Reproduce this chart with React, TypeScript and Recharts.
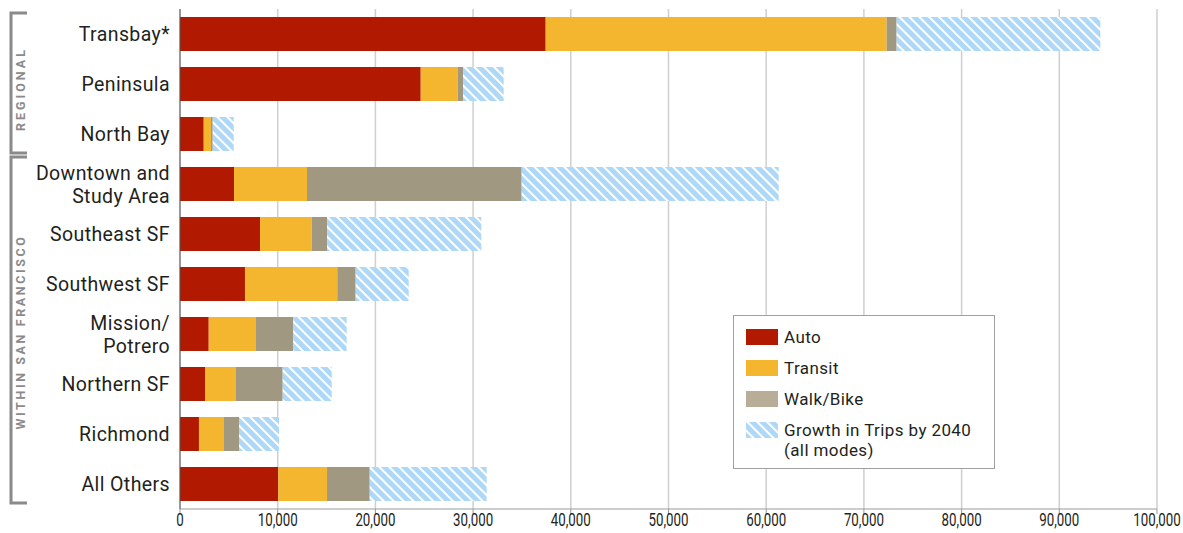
import { BarChart, Bar, XAxis, YAxis, CartesianGrid } from 'recharts';

const categories = [
  'Transbay*',
  'Peninsula',
  'North Bay',
  'Downtown and\nStudy Area',
  'Southeast SF',
  'Southwest SF',
  'Mission/\nPotrero',
  'Northern SF',
  'Richmond',
  'All Others',
];
const autoTrips = [37430, 24640, 2430, 5530, 8190, 6650, 2940, 2560, 1940, 10060];
const transitTrips = [34900, 3780, 740, 7470, 5290, 9450, 4840, 3170, 2560, 4990];
const walkBikeTrips = [1020, 550, 180, 21970, 1570, 1880, 3820, 4780, 1540, 4370];
const growthTrips = [20850, 4160, 2150, 26310, 15790, 5430, 5460, 5020, 4090, 11970];
const xTicks = [0, 10000, 20000, 30000, 40000, 50000, 60000, 70000, 80000, 90000, 100000];

const data = categories.map((name, i) => ({
  name,
  auto: autoTrips[i],
  transit: transitTrips[i],
  walkBike: walkBikeTrips[i],
  growth: growthTrips[i],
}));

const AUTO = '#B11A00';
const TRANSIT = '#F4B52F';
const WALK = '#A09880';
const WALK_LEGEND = '#B9AD97';
const BLUE = '#AED8F8';
const GROUP_GRAY = '#8a8a8a';
const TEXT = '#231F20';

const CategoryTick = (props: any) => {
  const { x, y, payload } = props;
  const lines = String(payload.value).split('\n');
  const offsets = lines.length === 1 ? [0] : [-11, 12];
  return (
    <text
      x={x}
      y={y}
      textAnchor="end"
      fill={TEXT}
      fontSize={19.5}
      letterSpacing={0.4}
      fontFamily="Roboto, 'Noto Sans', sans-serif"
    >
      {lines.map((ln, i) => (
        <tspan key={i} x={x} y={y + offsets[i] + 7}>
          {ln}
        </tspan>
      ))}
    </text>
  );
};

// condensed-looking number ticks
const ValueTick = (props: any) => {
  const { x, y, payload } = props;
  return (
    <text
      transform={`translate(${x} ${y + 10}) scale(0.72 1)`}
      textAnchor="middle"
      fill={TEXT}
      fontSize={18.5}
      fontFamily="Roboto, sans-serif"
    >
      {Number(payload.value).toLocaleString('en-US')}
    </text>
  );
};

const Stripes = ({ id }: { id: string }) => (
  <pattern id={id} patternUnits="userSpaceOnUse" width={7} height={7} patternTransform="rotate(-45)">
    <rect width={7} height={7} fill={BLUE} />
    <rect width={2} height={7} fill="#ffffff" />
  </pattern>
);

const legendItems = [
  { label: 'Auto', color: AUTO },
  { label: 'Transit', color: TRANSIT },
  { label: 'Walk/Bike', color: WALK_LEGEND },
  { label: 'Growth in Trips by 2040', sub: '(all modes)', color: 'url(#legendStripes)' },
];

export default function App() {
  return (
    <div
      style={{
        position: 'absolute',
        left: 0,
        top: 0,
        width: 1183,
        height: 533,
        background: '#fff',
        fontFamily: "Roboto, 'Noto Sans', sans-serif",
      }}
    >
      <BarChart
        width={1183}
        height={533}
        data={data}
        layout="vertical"
        margin={{ top: 9, right: 26, bottom: 0, left: 10 }}
        barCategoryGap="16%"
      >
        <defs>
          <Stripes id="growthStripes" />
        </defs>
        <CartesianGrid horizontal={false} stroke="#cfcfcf" strokeWidth={1.5} />
        <XAxis
          type="number"
          domain={[0, 100000]}
          ticks={xTicks}
          interval={0}
          height={24}
          axisLine={{ stroke: '#9a9a9a' }}
          tickLine={{ stroke: '#9a9a9a' }}
          tickSize={5}
          tick={<ValueTick />}
        />
        <YAxis
          type="category"
          dataKey="name"
          width={170}
          interval={0}
          tickLine={false}
          tickSize={0}
          tickMargin={10}
          axisLine={{ stroke: '#555' }}
          tick={<CategoryTick />}
        />
        <Bar dataKey="auto" stackId="a" fill={AUTO} isAnimationActive={false} />
        <Bar dataKey="transit" stackId="a" fill={TRANSIT} isAnimationActive={false} />
        <Bar dataKey="walkBike" stackId="a" fill={WALK} isAnimationActive={false} />
        <Bar dataKey="growth" stackId="a" fill="url(#growthStripes)" isAnimationActive={false} />
      </BarChart>

      {/* group brackets on the left */}
      <svg
        width={40}
        height={533}
        style={{ position: 'absolute', left: 0, top: 0, pointerEvents: 'none' }}
      >
        <path d="M27 13 H11 V153 H27" fill="none" stroke={GROUP_GRAY} strokeWidth={3} />
        <path d="M27 157 H11 V503 H27" fill="none" stroke={GROUP_GRAY} strokeWidth={3} />
        <text
          transform="translate(25 89) rotate(-90)"
          textAnchor="middle"
          fill={GROUP_GRAY}
          fontSize={12.5}
          fontWeight="bold"
          letterSpacing={3}
          fontFamily="Roboto, sans-serif"
        >
          REGIONAL
        </text>
        <text
          transform="translate(25 332) rotate(-90)"
          textAnchor="middle"
          fill={GROUP_GRAY}
          fontSize={12.5}
          fontWeight="bold"
          letterSpacing={2.6}
          fontFamily="Roboto, sans-serif"
        >
          WITHIN SAN FRANCISCO
        </text>
      </svg>

      {/* legend */}
      <div
        style={{
          position: 'absolute',
          left: 733,
          top: 315,
          width: 262,
          height: 154,
          border: '1px solid #a0a0a0',
          boxSizing: 'border-box',
          background: '#fff',
          padding: '12px 0 0 12px',
        }}
      >
        <svg width={0} height={0} style={{ position: 'absolute' }}>
          <defs>
            <Stripes id="legendStripes" />
          </defs>
        </svg>
        {legendItems.map((it) => (
          <div
            key={it.label}
            style={{
              display: 'flex',
              alignItems: 'flex-start',
              height: 31,
              color: TEXT,
              fontSize: 17,
              letterSpacing: 0.4,
            }}
          >
            <svg width={32} height={16} style={{ flex: 'none', marginTop: 1 }}>
              <rect width={32} height={16} fill={it.color} />
            </svg>
            <div style={{ marginLeft: 6, lineHeight: '20px', marginTop: -1 }}>
              <div>{it.label}</div>
              {it.sub && <div>{it.sub}</div>}
            </div>
          </div>
        ))}
      </div>
    </div>
  );
}
